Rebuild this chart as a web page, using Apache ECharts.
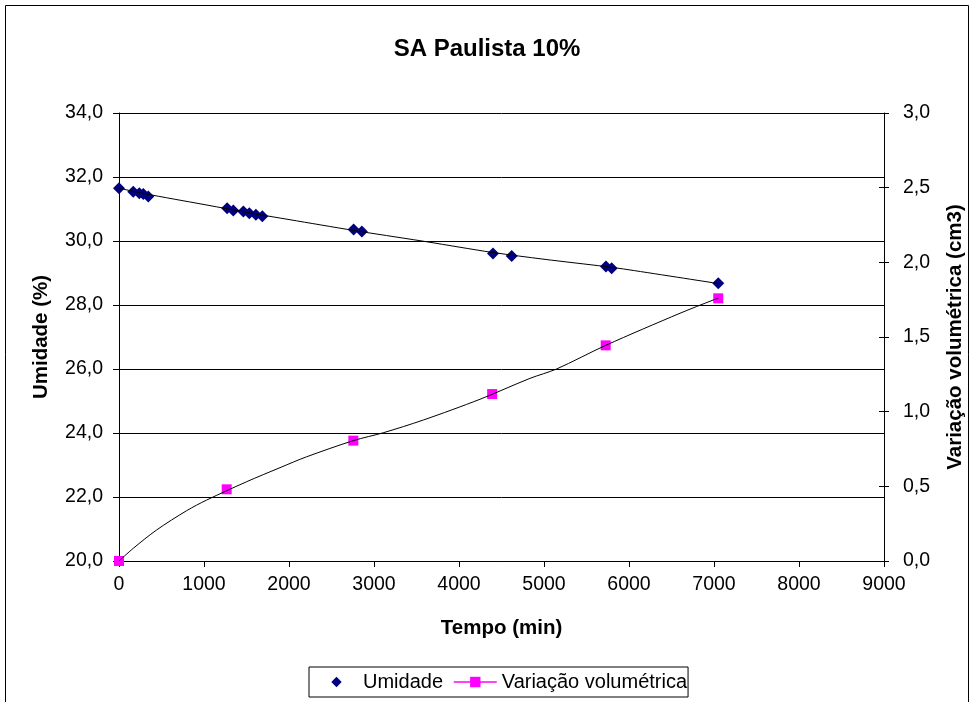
<!DOCTYPE html>
<html>
<head>
<meta charset="utf-8">
<script src="https://cdn.jsdelivr.net/npm/echarts@6/dist/echarts.min.js"></script>
<style>html,body{margin:0;padding:0;background:#fff}#c{width:974px;height:702px}</style>
</head>
<body>
<div id="c"></div>
<script>
// Measured data
var umidT = [0,168,239,286,345,1272,1345,1463,1533,1610,1686,2760,2857,4400,4620,5729,5796,7050];
var umidV = [31.65,31.54,31.49,31.47,31.39,31.02,30.95,30.92,30.87,30.82,30.77,30.36,30.30,29.61,29.53,29.20,29.15,28.68];
var varT = [0,1267,2757,4390,5726,7050];
var varV = [0,0.48,0.806,1.118,1.444,1.759];
// Trendlines
var umidTrendT = [0,300,1000,1600,2000,2760,3000,3612,4000,4400,5000,5729,6000,7050];
var umidTrendV = [31.65,31.48,31.14,30.85,30.67,30.33,30.23,29.98,29.81,29.64,29.43,29.20,29.10,28.67];
var varTrendT = [0,168,443,796,1031,1502,1894,2208,2757,3110,3580,4247,4835,5149,5726,6600,6992,7050];
var varTrendV = [0,0.085,0.208,0.337,0.408,0.531,0.625,0.698,0.806,0.859,0.944,1.083,1.223,1.286,1.444,1.659,1.748,1.76];

var titleText = 'SA Paulista 10%';
var xName = 'Tempo (min)';
var yLeftName = 'Umidade (%)';
var yRightName = 'Variação volumétrica (cm3)';
var seriesNames = ['Umidade', 'Variação volumétrica'];

function zip(a, b) { return a.map(function (v, i) { return [v, b[i]]; }); }
function comma(v) { return v.toFixed(1).replace('.', ','); }

var FONT = 'Liberation Sans, Arial, sans-serif';
var TICK = 19.5, NAME = 20.5;
var chart = echarts.init(document.getElementById('c'));
chart.setOption({
  animation: false,
  backgroundColor: '#fff',
  textStyle: { fontFamily: FONT, color: '#000' },
  title: {
    text: titleText, left: 'center', top: 32,
    textStyle: { fontFamily: FONT, fontSize: 24, fontWeight: 'bold', color: '#000' }
  },
  graphic: [{
    type: 'rect', shape: { x: 5.5, y: 5.5, width: 963, height: 760 },
    style: { fill: 'none', stroke: '#000', lineWidth: 1 }, silent: true
  }],
  grid: { left: 119, right: 90, top: 113, bottom: 141 },
  legend: {
    left: 309, top: 667,
    padding: [5, 1, 5, 5],
    borderColor: '#000', borderWidth: 1,
    itemWidth: 43, itemHeight: 13, itemGap: 10,
    textStyle: { fontFamily: FONT, fontSize: 20, color: '#000' },
    data: [
      { name: seriesNames[0], lineStyle: { opacity: 0 } },
      { name: seriesNames[1], lineStyle: { color: '#FF00FF', opacity: 1, width: 1.5 } }
    ]
  },
  xAxis: {
    type: 'value', min: 0, max: 9000, interval: 1000,
    name: xName, nameLocation: 'middle', nameGap: 57,
    nameTextStyle: { fontFamily: FONT, fontSize: NAME, fontWeight: 'bold', color: '#000' },
    axisLine: { show: true, lineStyle: { color: '#000', width: 1 } },
    axisTick: { show: true, inside: false, length: 6, lineStyle: { color: '#000' } },
    axisLabel: { fontFamily: FONT, fontSize: TICK, color: '#000', margin: 14,
      formatter: function (v) { return String(v); } },
    splitLine: { show: false }
  },
  yAxis: [{
    type: 'value', min: 20, max: 34, interval: 2, position: 'left',
    name: yLeftName, nameLocation: 'middle', nameGap: 67, nameRotate: 90,
    nameTextStyle: { fontFamily: FONT, fontSize: NAME, fontWeight: 'bold', color: '#000' },
    axisLine: { show: true, lineStyle: { color: '#000', width: 1 } },
    axisTick: { show: true, inside: false, length: 6, lineStyle: { color: '#000' } },
    axisLabel: { fontFamily: FONT, fontSize: TICK, color: '#000', margin: 16, formatter: comma },
    splitLine: { show: true, lineStyle: { color: '#000', width: 1 } }
  }, {
    type: 'value', min: 0, max: 3, interval: 0.5, position: 'right',
    name: yRightName, nameLocation: 'middle', nameGap: 61, nameRotate: 90,
    nameTextStyle: { fontFamily: FONT, fontSize: NAME, fontWeight: 'bold', color: '#000' },
    axisLine: { show: true, lineStyle: { color: '#000', width: 1 } },
    axisTick: { show: true, inside: false, length: 5, lineStyle: { color: '#000' } },
    axisLabel: { fontFamily: FONT, fontSize: TICK, color: '#000', margin: 19, formatter: comma },
    splitLine: { show: false }
  }, {
    type: 'value', min: 0, max: 3, interval: 0.5, position: 'right',
    axisLine: { show: false },
    axisTick: { show: true, inside: true, length: 5, lineStyle: { color: '#000' } },
    axisLabel: { show: false },
    splitLine: { show: false }
  }],
  series: [{
    name: seriesNames[0], type: 'line', yAxisIndex: 0,
    symbol: 'diamond', symbolSize: 12, showSymbol: true, showAllSymbol: true,
    itemStyle: { color: '#000080' },
    lineStyle: { color: '#000080', opacity: 0 },
    data: zip(umidT, umidV), z: 3
  }, {
    name: seriesNames[1], type: 'line', yAxisIndex: 1,
    symbol: 'rect', symbolSize: 10, showSymbol: true, showAllSymbol: true,
    itemStyle: { color: '#FF00FF' },
    lineStyle: { color: '#FF00FF', opacity: 0 },
    data: zip(varT, varV), z: 3
  }, {
    name: 'trendUmid', type: 'line', yAxisIndex: 0, showSymbol: false, symbol: 'none',
    smooth: 0.3, silent: true,
    lineStyle: { color: '#000', width: 1 },
    data: zip(umidTrendT, umidTrendV), z: 4
  }, {
    name: 'trendVar', type: 'line', yAxisIndex: 1, showSymbol: false, symbol: 'none',
    smooth: 0.3, silent: true,
    lineStyle: { color: '#000', width: 1 },
    data: zip(varTrendT, varTrendV), z: 4
  }]
});
</script>
</body>
</html>
